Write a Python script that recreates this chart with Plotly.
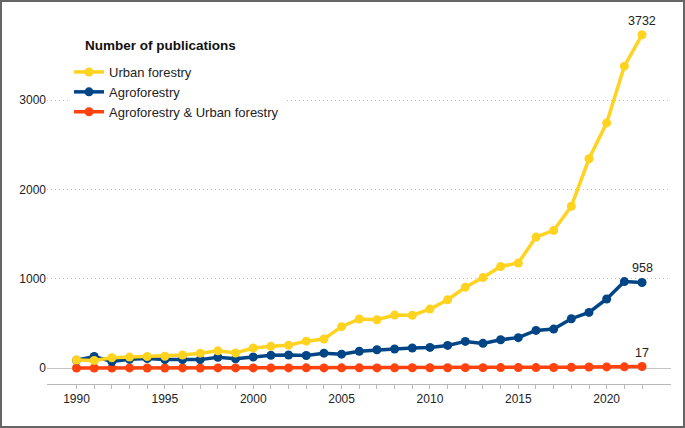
import plotly.graph_objects as go

years = list(range(1990, 2023))
urban_forestry = [90, 85, 115, 122, 128, 132, 146, 166, 192, 168, 224, 243, 256, 301, 325,
                  463, 549, 540, 593, 591, 660, 764, 905, 1013, 1137, 1176, 1466, 1541, 1812,
                  2343, 2745, 3380, 3732]
agroforestry = [88, 129, 73, 97, 106, 94, 94, 94, 121, 103, 123, 142, 146, 140, 166, 155,
                188, 205, 213, 224, 231, 253, 298, 276, 317, 340, 421, 436, 552, 623, 773,
                968, 958]
agro_urban = [0, 0, 0, 1, 0, 0, 1, 0, 1, 1, 1, 1, 1, 2, 1, 2, 2, 1, 2, 3, 3, 3, 4, 4, 5,
              5, 5, 6, 9, 11, 12, 13, 17]

series_names = ["Agroforestry & Urban forestry", "Agroforestry", "Urban forestry"]
series_values = [agro_urban, agroforestry, urban_forestry]
series_colors = ["#FF420E", "#004586", "#FFD320"]

xtick_vals = years
xtick_text = [str(y) if y % 5 == 0 else "" for y in years]
ytick_vals = [0, 1000, 2000, 3000]
legend_title = "Number of publications"

FONT = "Liberation Sans, Arial, sans-serif"

fig = go.Figure()
for name, vals, col in zip(series_names, series_values, series_colors):
    fig.add_trace(go.Scatter(
        x=years, y=vals, name=name, mode="lines+markers",
        line=dict(color=col, width=3.5),
        marker=dict(color=col, size=9),
    ))

for vals in series_values:
    fig.add_annotation(x=years[-1], y=vals[-1], text=str(vals[-1]), showarrow=False,
                       yshift=14, font=dict(family=FONT, size=12.5, color="#222222"))

W, H = 685, 428
ml, mr, mt, mb = 47, 14, 11, 44
pw, ph = W - ml - mr, H - mt - mb
fig.add_shape(type="rect", xref="paper", yref="paper",
              x0=(1 - ml) / pw, x1=(W - 1 - ml) / pw,
              y0=-(mb - 1) / ph, y1=(ph + mt - 1) / ph,
              line=dict(color="#666666", width=2), fillcolor="rgba(0,0,0,0)")

fig.add_annotation(xref="paper", yref="paper", x=(83 - ml) / pw, y=(ph + mt - 46) / ph,
                   xanchor="left", yanchor="middle", showarrow=False,
                   text="<b>" + legend_title + "</b>",
                   font=dict(family=FONT, size=13.5, color="#111111"))

fig.update_layout(
    width=W, height=H,
    margin=dict(l=ml, r=mr, t=mt, b=mb),
    paper_bgcolor="white", plot_bgcolor="white",
    font=dict(family=FONT, size=12, color="#222222"),
    showlegend=True,
    legend=dict(
        x=(69 - ml) / pw, y=(ph + mt - 57) / ph, xanchor="left", yanchor="top",
        bgcolor="white", traceorder="reversed",
        font=dict(size=13, color="#222222"),
        itemwidth=30, tracegroupgap=0,
    ),
    xaxis=dict(
        range=[1988.33, 2023.64], tickmode="array", tickvals=xtick_vals, ticktext=xtick_text,
        ticks="outside", ticklen=4, tickcolor="#b8b8b8", showgrid=False,
        showline=True, linecolor="#b8b8b8", linewidth=1, zeroline=False,
        tickfont=dict(size=12, color="#222222"),
    ),
    yaxis=dict(
        range=[-179, 3998], tickmode="array", tickvals=ytick_vals,
        showgrid=True, gridcolor="#bdbdbd", griddash="1px,3px", gridwidth=1,
        zeroline=True, zerolinecolor="#c4c4c4", zerolinewidth=1,
        showline=False, ticks="", tickfont=dict(size=12, color="#222222"),
    ),
)

fig.write_html("out.html", config={"displayModeBar": False},
               post_script="document.body.style.margin='0';")
